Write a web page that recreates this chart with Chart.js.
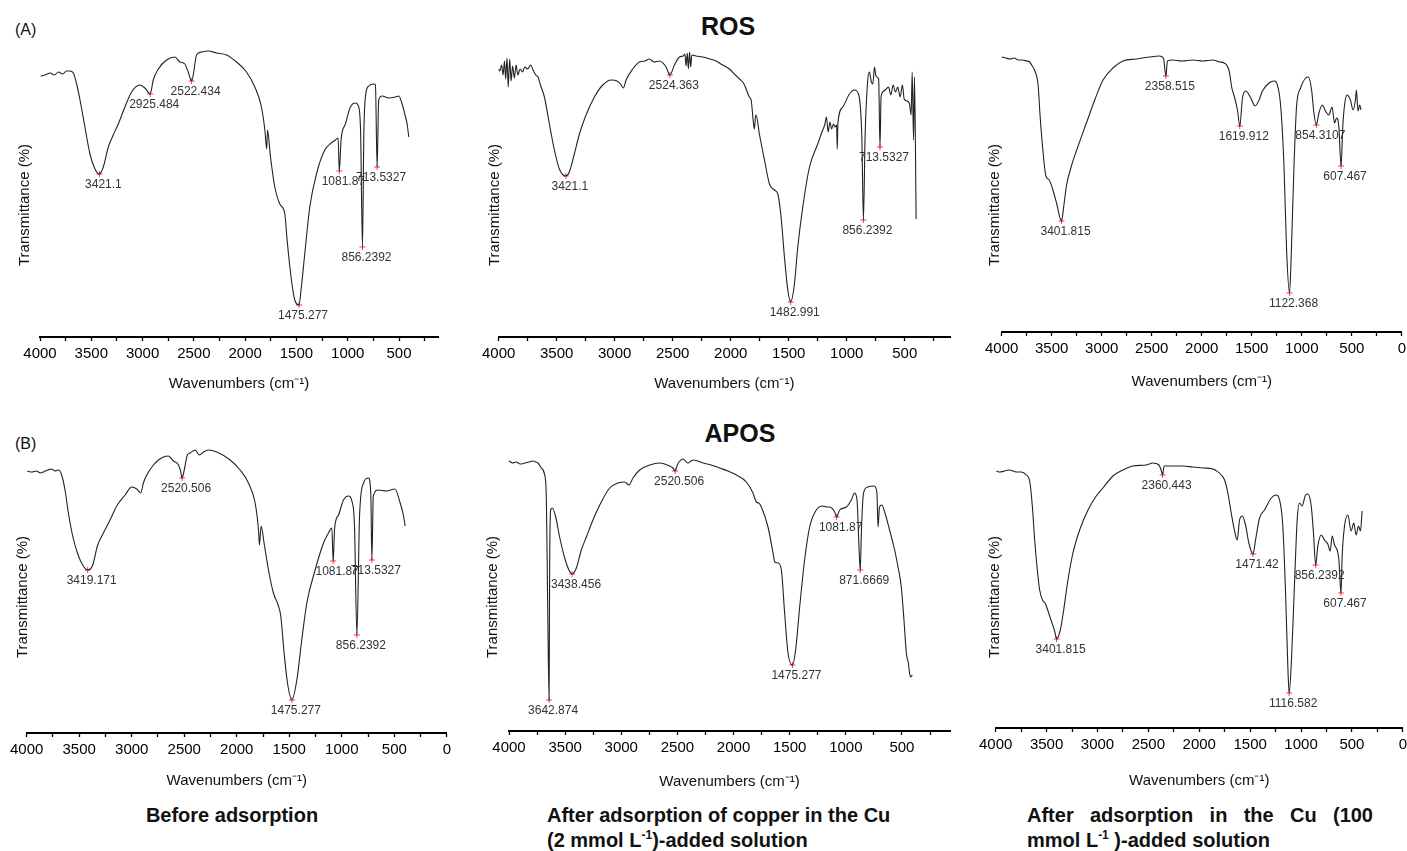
<!DOCTYPE html>
<html>
<head>
<meta charset="utf-8">
<title>FTIR spectra of ROS and APOS</title>
<script src="https://cdn.jsdelivr.net/npm/chart.js@4.4.0/dist/chart.umd.min.js"></script>
<style>
  html, body { margin: 0; padding: 0; background: #fff; }
  body { width: 1407px; height: 851px; position: relative; overflow: hidden;
         font-family: 'Liberation Sans', Arial, sans-serif; color: #111; }
  .panel { position: absolute; width: 500px; height: 420px; }
  .tag { position: absolute; font-size: 16px; line-height: 18px; }
  .head { position: absolute; font-size: 25px; font-weight: bold; line-height: 28px; transform: translateX(-50%); }
  .cap { position: absolute; font-size: 20px; font-weight: bold; line-height: 24px; white-space: nowrap; }
  .cap sup { font-size: 12px; line-height: 0; vertical-align: 8px; }
</style>
</head>
<body>
<div class="tag" style="left:15px;top:21px">(A)</div>
<div class="head" style="left:728px;top:12px">ROS</div>
<div class="tag" style="left:15px;top:435px">(B)</div>
<div class="head" style="left:740px;top:419px">APOS</div>

<div class="cap" style="left:232px;top:803px;transform:translateX(-50%)">Before adsorption</div>
<div class="cap" style="left:547px;top:803px">After adsorption of copper in the Cu</div>
<div class="cap" style="left:547px;top:828px">(2 mmol L<sup>-1</sup>)-added solution</div>
<div class="cap" style="left:1027px;top:803px;width:346px;white-space:normal;text-align:justify;text-align-last:justify">After adsorption in the Cu (100</div>
<div class="cap" style="left:1027px;top:828px">mmol L<sup>-1</sup> )-added solution</div>

<script>
'use strict';

// spectra as [wavenumber, transmittance] pairs, transmittance in arbitrary units
const rosBefore = [
  [3994, 261], [3950, 262], [3900, 264], [3860, 262], [3820, 265], [3780, 263], [3740, 266], [3708, 266],
  [3675, 264], [3643, 253], [3610, 237], [3562, 210], [3513, 183], [3464, 168], [3421.1, 163], [3383, 170],
  [3334, 190], [3286, 202], [3237, 213], [3172, 230], [3107, 245], [3026, 252], [2977, 249], [2925.484, 243],
  [2896, 257], [2847, 268], [2766, 277], [2685, 280], [2636, 275], [2588, 273], [2555, 265], [2522.434, 256],
  [2506, 262], [2474, 282], [2425, 285], [2360, 286], [2279, 284], [2182, 282], [2084, 275], [1987, 265],
  [1906, 250], [1841, 230], [1808, 207], [1790, 188], [1782, 207], [1753, 180], [1711, 150], [1662, 133],
  [1613, 123], [1591, 97], [1549, 57], [1516, 37], [1475.277, 32], [1452, 50], [1419, 83], [1370, 130],
  [1305, 163], [1224, 187], [1160, 194], [1120, 197], [1094, 199], [1081.87, 166], [1065, 197], [1023, 213],
  [974, 230], [925, 234], [893, 230], [874, 203], [856.2392, 90], [843, 203], [828, 240], [795, 251],
  [746, 253], [730, 252], [713.5327, 170], [698, 237], [665, 241], [600, 239], [535, 240], [502, 241],
  [470, 233], [444, 223], [421, 213], [405, 200]
];
const rosBeforePeaks = [3421.1, 2925.484, 2522.434, 1475.277, 1081.87, 856.2392, 713.5327];

const rosCu2 = [
  [4000, 268], [3990, 266], [3975, 272], [3962, 262], [3950, 276], [3940, 258], [3928, 279], [3918, 250],
  [3905, 278], [3893, 256], [3880, 271], [3865, 259], [3850, 272], [3835, 262], [3815, 268], [3795, 265],
  [3775, 270], [3750, 268], [3725, 272], [3700, 266], [3680, 262], [3660, 260], [3640, 252], [3606, 240],
  [3563, 213], [3520, 187], [3477, 168], [3421.1, 161], [3391, 165], [3348, 183], [3304, 203], [3247, 222],
  [3175, 240], [3103, 252], [3030, 257], [2980, 256], [2950, 253], [2925, 249], [2902, 257], [2845, 268],
  [2787, 275], [2740, 276], [2701, 278], [2660, 275], [2615, 276], [2557, 270], [2524.363, 262], [2485, 272],
  [2442, 280], [2410, 281], [2395, 283], [2385, 271], [2375, 284], [2365, 268], [2355, 285], [2345, 270],
  [2335, 282], [2300, 281], [2241, 280], [2180, 278], [2126, 276], [2070, 272], [2011, 268], [1960, 262],
  [1925, 258], [1890, 254], [1867, 248], [1840, 240], [1824, 237], [1805, 215], [1796, 208], [1787, 220],
  [1781, 222], [1753, 203], [1709, 177], [1666, 153], [1623, 147], [1594, 143], [1566, 120], [1537, 80],
  [1508, 47], [1482.991, 35], [1451, 53], [1422, 90], [1379, 130], [1321, 170], [1250, 193], [1207, 207],
  [1190, 212], [1175, 220], [1160, 205], [1145, 215], [1130, 208], [1115, 213], [1100, 210], [1087, 212],
  [1082, 188], [1076, 214], [1034, 230], [977, 243], [934, 247], [896, 242], [870, 200], [856.2392, 117],
  [842, 200], [819, 257], [804, 265], [790, 256], [775, 253], [761, 270], [750, 262], [741, 260],
  [725, 258], [713.5327, 190], [704, 240], [680, 246], [660, 248], [640, 250], [620, 242], [600, 252],
  [580, 245], [560, 250], [540, 240], [520, 252], [505, 238], [480, 236], [459, 233], [445, 222],
  [436, 265], [424, 197], [416, 260], [402, 118]
];
const rosCu2Peaks = [3421.1, 2524.363, 1482.991, 856.2392, 713.5327];

const rosCu100 = [
  [4000, 275], [3960, 274], [3917, 273], [3875, 274], [3834, 272], [3790, 272], [3751, 271], [3720, 270],
  [3701, 267], [3668, 261], [3635, 246], [3618, 219], [3592, 186], [3558, 156], [3525, 152], [3485, 141],
  [3452, 129], [3401.815, 111], [3379, 126], [3353, 146], [3303, 166], [3236, 186], [3153, 209], [3070, 232],
  [2987, 252], [2888, 264], [2788, 271], [2655, 273], [2523, 275], [2423, 276], [2383, 274], [2358.515, 256],
  [2343, 271], [2290, 272], [2200, 271], [2091, 272], [1990, 271], [1892, 272], [1820, 270], [1776, 269],
  [1726, 261], [1699, 244], [1676, 236], [1643, 222], [1619.912, 206], [1593, 234], [1560, 241], [1510, 234],
  [1467, 226], [1427, 232], [1394, 241], [1327, 249], [1277, 251], [1244, 247], [1211, 226], [1178, 166],
  [1152, 82], [1122.368, 39], [1105, 79], [1078, 166], [1052, 226], [1012, 244], [962, 254], [936, 255],
  [902, 242], [879, 219], [854.3107, 207], [829, 219], [796, 227], [763, 221], [730, 217], [697, 225],
  [673, 209], [653, 214], [630, 206], [607.467, 166], [590, 206], [570, 229], [547, 237], [514, 232],
  [487, 222], [464, 232], [454, 242], [438, 221], [421, 227], [408, 222]
];
const rosCu100Peaks = [3401.815, 2358.515, 1619.912, 1122.368, 854.3107, 607.467];

const aposBefore = [
  [3994, 262], [3950, 261], [3905, 262], [3870, 260], [3841, 261], [3800, 263], [3762, 264], [3730, 262],
  [3698, 263], [3667, 258], [3635, 243], [3603, 220], [3562, 197], [3517, 180], [3467, 168], [3419.171, 163],
  [3371, 168], [3327, 187], [3270, 200], [3206, 213], [3143, 227], [3063, 238], [3000, 246], [2952, 244],
  [2914, 240], [2889, 250], [2857, 258], [2793, 268], [2745, 273], [2698, 276], [2651, 277], [2603, 272],
  [2555, 268], [2535, 262], [2520.506, 255], [2500, 263], [2470, 278], [2444, 280], [2397, 283], [2356, 278],
  [2317, 281], [2270, 283], [2190, 281], [2063, 273], [1968, 263], [1889, 250], [1825, 230], [1793, 203],
  [1784, 188], [1768, 207], [1740, 190], [1698, 163], [1651, 140], [1603, 127], [1581, 117], [1549, 80],
  [1517, 50], [1475.277, 33], [1428, 53], [1381, 93], [1333, 130], [1254, 163], [1174, 190], [1127, 200],
  [1095, 205], [1081.87, 172], [1068, 205], [1031, 218], [984, 233], [936, 237], [904, 232], [879, 207],
  [856.2392, 98], [831, 217], [793, 250], [746, 255], [724, 240], [713.5327, 173], [700, 237], [653, 243],
  [575, 242], [495, 244], [444, 230], [412, 217], [397, 207]
];
const aposBeforePeaks = [3419.171, 2520.506, 1475.277, 1081.87, 856.2392, 713.5327];

const aposCu2 = [
  [4000, 270], [3968, 268], [3935, 269], [3900, 267], [3860, 268], [3820, 269], [3786, 270], [3760, 269],
  [3742, 268], [3712, 263], [3682, 256], [3667, 231], [3656, 131], [3642.874, 31], [3638, 164], [3629, 221],
  [3614, 223], [3584, 214], [3549, 194], [3504, 173], [3466, 161], [3438.456, 157], [3400, 163], [3356, 181],
  [3311, 194], [3252, 211], [3178, 229], [3103, 243], [3029, 248], [2970, 249], [2931, 246], [2896, 253],
  [2836, 261], [2747, 266], [2658, 268], [2569, 265], [2540, 263], [2520.506, 260], [2500, 266], [2486, 269],
  [2450, 272], [2406, 268], [2380, 270], [2361, 271], [2320, 270], [2272, 268], [2200, 266], [2124, 263],
  [2050, 260], [1975, 256], [1886, 249], [1827, 238], [1797, 229], [1775, 228], [1752, 224], [1693, 204],
  [1648, 178], [1633, 169], [1604, 168], [1574, 161], [1545, 118], [1515, 78], [1475.277, 66], [1447, 81],
  [1411, 124], [1367, 171], [1322, 204], [1263, 221], [1203, 225], [1170, 224], [1144, 224], [1099, 219],
  [1081.87, 214], [1055, 221], [995, 224], [951, 231], [922, 238], [900, 231], [885, 191], [871.6669, 161],
  [860, 204], [842, 238], [806, 244], [747, 245], [723, 238], [713, 204], [700, 224], [679, 226],
  [654, 219], [610, 201], [565, 181], [535, 164], [506, 144], [482, 111], [461, 78], [443, 68],
  [425, 54], [408, 56]
];
const aposCu2Peaks = [3642.874, 3438.456, 2520.506, 1475.277, 1081.87, 871.6669];

const aposCu100 = [
  [3993, 257], [3960, 256], [3912, 257], [3870, 258], [3830, 257], [3790, 256], [3748, 256], [3699, 253],
  [3666, 247], [3640, 222], [3617, 188], [3591, 158], [3568, 138], [3535, 127], [3515, 125], [3496, 120],
  [3453, 107], [3421, 97], [3401.815, 89], [3365, 98], [3332, 118], [3290, 148], [3241, 175], [3175, 198],
  [3093, 218], [3012, 232], [2946, 240], [2848, 252], [2750, 258], [2652, 262], [2521, 263], [2455, 265],
  [2396, 263], [2375, 258], [2360.443, 253], [2345, 262], [2259, 262], [2160, 262], [2062, 261], [1960, 260],
  [1866, 259], [1784, 253], [1751, 248], [1719, 235], [1686, 215], [1653, 197], [1627, 188], [1604, 208],
  [1578, 212], [1545, 203], [1513, 185], [1471.42, 174], [1447, 188], [1408, 210], [1359, 218], [1293, 230],
  [1244, 233], [1211, 228], [1179, 202], [1152, 135], [1130, 62], [1116.582, 35], [1094, 68], [1064, 145],
  [1038, 208], [1015, 225], [989, 222], [956, 233], [933, 234], [900, 222], [878, 195], [856.2392, 163],
  [835, 182], [802, 193], [770, 188], [737, 184], [714, 177], [694, 192], [671, 183], [645, 178],
  [628, 168], [607.467, 135], [596, 172], [573, 202], [540, 213], [508, 197], [482, 205], [459, 193],
  [436, 202], [416, 197], [400, 217]
];
const aposCu100Peaks = [3401.815, 2360.443, 1471.42, 1116.582, 856.2392, 607.467];

// where each plot area sits on the page (px)
const panels = [
  { points: rosBefore,  peaks: rosBeforePeaks,  xMin: 120, area: { left: 40,   right: 438,  bottom: 337, height: 264 }, yGap: 15, xPad: 8 },
  { points: rosCu2,     peaks: rosCu2Peaks,     xMin: 110, area: { left: 499,  right: 950,  bottom: 337, height: 264 }, yGap: 4,  xPad: 8 },
  { points: rosCu100,   peaks: rosCu100Peaks,   xMin: 0,   area: { left: 1002, right: 1402, bottom: 332, height: 254 }, yGap: 7,  xPad: 11 },
  { points: aposBefore, peaks: aposBeforePeaks, xMin: 0,   area: { left: 27,   right: 447,  bottom: 733, height: 272 }, yGap: 4,  xPad: 9 },
  { points: aposCu2,    peaks: aposCu2Peaks,    xMin: 72,  area: { left: 509,  right: 950,  bottom: 731, height: 268 }, yGap: 16, xPad: 12 },
  { points: aposCu100,  peaks: aposCu100Peaks,  xMin: 0,   area: { left: 996,  right: 1403, bottom: 728, height: 262 }, yGap: 1,  xPad: 14 }
];

Chart.defaults.font.family = "'Liberation Sans', Arial, sans-serif";
Chart.defaults.color = '#111';

function valueAt(points, wn) {
  for (let i = 0; i < points.length - 1; i++) {
    const a = points[i], b = points[i + 1];
    if (wn <= a[0] && wn >= b[0]) {
      return a[1] + (b[1] - a[1]) * (a[0] - wn) / (a[0] - b[0]);
    }
  }
  return points[points.length - 1][1];
}

// peak value written under each red marker
const peakLabels = {
  id: 'peakLabels',
  afterDatasetsDraw(chart) {
    const ctx = chart.ctx;
    const xs = chart.scales.x, ys = chart.scales.y;
    ctx.save();
    ctx.font = '12px "Liberation Sans", Arial, sans-serif';
    ctx.fillStyle = '#333';
    ctx.textAlign = 'center';
    ctx.textBaseline = 'middle';
    chart.data.datasets[1].data.forEach(p => {
      ctx.fillText(String(p.x), xs.getPixelForValue(p.x) + 4, ys.getPixelForValue(p.y) + 11);
    });
    ctx.restore();
  }
};

function place(chart, box, t) {
  for (let i = 0; i < 3; i++) {
    const a = chart.chartArea;
    const w = Math.round(chart.width + (t.right - t.left) - (a.right - a.left));
    const h = Math.round(chart.height + t.height - (a.bottom - a.top));
    box.style.width = w + 'px';
    box.style.height = h + 'px';
    chart.resize();
    const b = chart.chartArea;
    box.style.left = (t.left - b.left) + 'px';
    box.style.top = (t.bottom - b.bottom) + 'px';
  }
}

panels.forEach(p => {
  const box = document.createElement('div');
  box.className = 'panel';
  const canvas = document.createElement('canvas');
  box.appendChild(canvas);
  document.body.appendChild(box);

  const line = p.points.map(d => ({ x: d[0], y: d[1] }));
  const marks = p.peaks.map(wn => ({ x: wn, y: valueAt(p.points, wn) }));

  const chart = new Chart(canvas, {
    type: 'line',
    data: {
      datasets: [
        { data: line, borderColor: '#222', borderWidth: 1.1, pointRadius: 0,
          cubicInterpolationMode: 'monotone', clip: false },
        { type: 'scatter', data: marks, pointStyle: 'cross', pointRadius: 3,
          borderColor: '#ff3b3b', borderWidth: 1, clip: false }
      ]
    },
    options: {
      responsive: true,
      maintainAspectRatio: false,
      animation: false,
      events: [],
      layout: { padding: { top: 40, right: 6, bottom: 2, left: 4 } },
      plugins: { legend: { display: false }, tooltip: { enabled: false } },
      scales: {
        x: {
          type: 'linear',
          reverse: true,
          min: p.xMin,
          max: 4000,
          ticks: {
            stepSize: 250,
            autoSkip: false,
            maxRotation: 0,
            includeBounds: false,
            padding: 4,
            color: '#000',
            font: { size: 15 },
            callback: v => (v % 500 === 0 ? v : '')
          },
          grid: { drawOnChartArea: false, drawTicks: true, tickLength: 4, color: '#000', tickWidth: 1.3 },
          border: { display: true, color: '#000', width: 2 },
          title: { display: true, text: 'Wavenumbers (cm⁻¹)', font: { size: 15 }, color: '#111',
                   padding: { top: p.xPad, bottom: 0 } }
        },
        y: {
          min: 0,
          max: p.area.height,
          ticks: { display: false },
          grid: { display: false, drawTicks: false },
          border: { display: false },
          title: { display: true, text: 'Transmittance (%)', font: { size: 15 }, color: '#111',
                   padding: { top: 0, bottom: p.yGap - 9 } }
        }
      }
    },
    plugins: [peakLabels]
  });

  place(chart, box, p.area);
});
</script>
</body>
</html>
